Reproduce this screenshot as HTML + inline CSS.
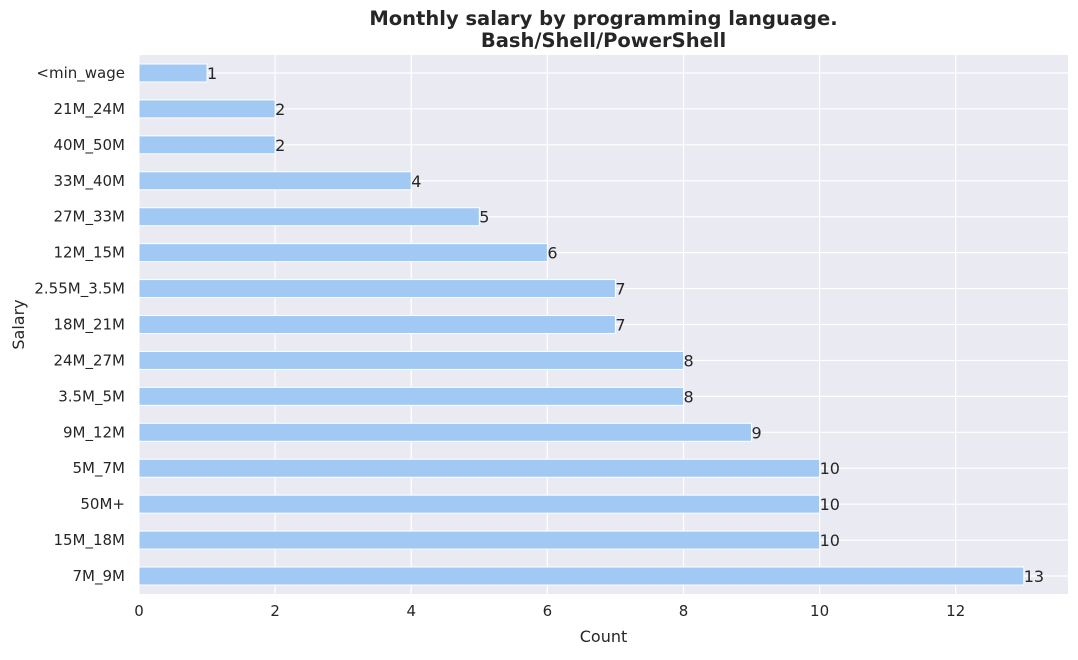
<!DOCTYPE html>
<html><head><meta charset="utf-8"><style>
body{margin:0;background:#fff;font-family:"DejaVu Sans","Liberation Sans",sans-serif;}
svg text{font-family:"DejaVu Sans","Liberation Sans",sans-serif;}
</style></head><body>
<svg id="chart" width="1078" height="656" xmlns="http://www.w3.org/2000/svg"></svg>
<script>
const categories=["<min_wage","21M_24M","40M_50M","33M_40M","27M_33M","12M_15M","2.55M_3.5M","18M_21M","24M_27M","3.5M_5M","9M_12M","5M_7M","50M+","15M_18M","7M_9M"];
const counts=[1,2,2,4,5,6,7,7,8,8,9,10,10,10,13];
const xTicks=[0,2,4,6,8,10,12];
const svg=document.getElementById('chart');
const NS='http://www.w3.org/2000/svg';
const L=139,R=1068,T=55,B=594,xMax=13.65;
const x=v=>L+v/xMax*(R-L);
const step=(B-T)/categories.length;
const y=i=>T+step*(i+0.5);
function el(tag,attrs,text){const e=document.createElementNS(NS,tag);for(const k in attrs)e.setAttribute(k,attrs[k]);if(text!==undefined)e.textContent=text;svg.appendChild(e);return e;}
const bg=el('rect',{x:L,y:T,width:R-L,height:B-T,fill:'#eaeaf2'});


xTicks.forEach(t=>{
 const g=el('line',{x1:x(t),x2:x(t),y1:T,y2:B,stroke:'#fff','stroke-width':1.2});
 
 
 const lb=el('text',{x:x(t),y:B+22,'text-anchor':'middle','font-size':15,fill:'#262626'},t);
 
 
});
categories.forEach((c,i)=>{
 const g=el('line',{x1:L,x2:R,y1:y(i),y2:y(i),stroke:'#fff','stroke-width':1.2});
 
 
});
categories.forEach((c,i)=>{
 const h=step*0.5;
 const b=el('rect',{x:L,y:y(i)-h/2,width:x(counts[i])-L,height:h,fill:'#a1c9f4',stroke:'#fff','stroke-width':1});
 
 
 const v=el('text',{x:x(counts[i]),y:y(i)+6,'font-size':16,fill:'#262626'},counts[i]);
 
 
 const lb=el('text',{x:L-14,y:y(i)+5,'text-anchor':'end','font-size':15,fill:'#262626'},c);
 
 
});
const t1=el('text',{x:(L+R)/2,y:25,'text-anchor':'middle','font-size':19.5,'font-weight':'bold',fill:'#262626'},'Monthly salary by programming language.');


const t2=el('text',{x:(L+R)/2,y:47,'text-anchor':'middle','font-size':19.5,'font-weight':'bold',fill:'#262626'},'Bash/Shell/PowerShell');


const xt=el('text',{x:(L+R)/2,y:642,'text-anchor':'middle','font-size':16,fill:'#262626'},'Count');


const yt=el('text',{x:24,y:(T+B)/2,'text-anchor':'middle','font-size':16,fill:'#262626',transform:'rotate(-90 24 '+((T+B)/2)+')'},'Salary');


</script>
</body></html>
